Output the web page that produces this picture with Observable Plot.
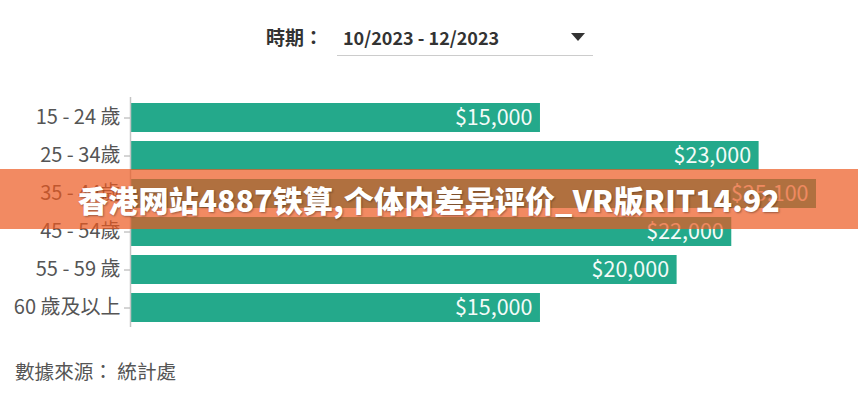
<!DOCTYPE html>
<html>
<head>
<meta charset="utf-8">
<script src="https://cdn.jsdelivr.net/npm/d3@7"></script>
<script src="https://cdn.jsdelivr.net/npm/@observablehq/plot@0.6"></script>
<style>
  html, body { margin: 0; padding: 0; background: #fff; }
  body { width: 858px; height: 400px; overflow: hidden; font-family: "Noto Sans CJK TC", "Noto Sans", sans-serif; }
  #wrap { position: relative; width: 858px; height: 400px; }
  #header { position: absolute; left: 0; top: 0; width: 858px; height: 80px; }
  .lbl { position: absolute; left: 266px; top: 23px; font-size: 19px; font-weight: 700; color: #333; line-height: 28px; }
  .period { position: absolute; left: 343px; top: 23px; font-size: 18px; font-weight: 600; color: #333; line-height: 28px; }
  .arrow { position: absolute; left: 571px; top: 33px; width: 0; height: 0; border-left: 7px solid transparent; border-right: 7px solid transparent; border-top: 8px solid #333; }
  .uline { position: absolute; left: 337px; top: 55px; width: 256px; height: 1px; background: #ccc; }
  #chart { position: absolute; left: 0; top: 80px; }
  #footer { position: absolute; left: 15px; top: 357px; font-size: 19.6px; color: #555; line-height: 28px; }
  #banner { position: absolute; left: 0; top: 169px; width: 858px; height: 60px; background: rgba(236, 88, 31, 0.7);
            display: flex; align-items: center; justify-content: center; }
  #banner span { color: #fff; font-family: "Noto Sans CJK SC", sans-serif; font-weight: 900; font-size: 30px;
                 text-shadow: 1px 1px 2px rgba(0,0,0,0.35); letter-spacing: 0.2px; }
</style>
</head>
<body>
<div id="wrap">
  <div id="header">
    <span class="lbl">時期：</span>
    <span class="period">10/2023 - 12/2023</span>
    <div class="arrow"></div>
    <div class="uline"></div>
  </div>
  <div id="chart"></div>
  <div id="footer">數據來源：&nbsp;統計處</div>
  <div id="banner"><span>香港网站4887铁算,个体内差异评价_VR版RIT14.92</span></div>
</div>
<script>
const ageGroups = ["15 - 24 歲", "25 - 34歲", "35 - 44歲", "45 - 54歲", "55 - 59 歲", "60 歲及以上"];
const incomes = [15000, 23000, 25100, 22000, 20000, 15000];

const data = ageGroups.map((a, i) => ({ age: a, value: incomes[i] }));
const fmt = v => "$" + d3.format(",")(v);

const chart = Plot.plot({
  width: 858,
  height: 260,
  marginTop: 17,
  marginBottom: 13,
  marginLeft: 130,
  marginRight: 42,
  style: { fontFamily: "'Noto Sans CJK TC', 'Noto Sans', sans-serif", fontSize: "20px", color: "#555", background: "transparent" },
  x: { domain: [0, 25100], axis: null },
  y: { domain: ageGroups, paddingInner: 0.24, paddingOuter: 0.14, label: null, tickSize: 6, tickPadding: 4 },
  marks: [
    Plot.barX(data, { y: "age", x1: 0, x2: "value", fill: "#24a98b" }),
    Plot.ruleX([0], { stroke: "#c4c4c4", strokeWidth: 1.5 }),
    Plot.axisY({ domain: ageGroups, tickSize: 6, tickPadding: 4, stroke: "#aaa", fill: "#555", fontSize: 20, label: null }),
    Plot.text(data, { y: "age", x: "value", text: d => fmt(d.value), textAnchor: "end", dx: -8, fill: "#f4fbf8", fontSize: 21.5 })
  ]
});
document.getElementById("chart").appendChild(chart);
</script>
</body>
</html>
